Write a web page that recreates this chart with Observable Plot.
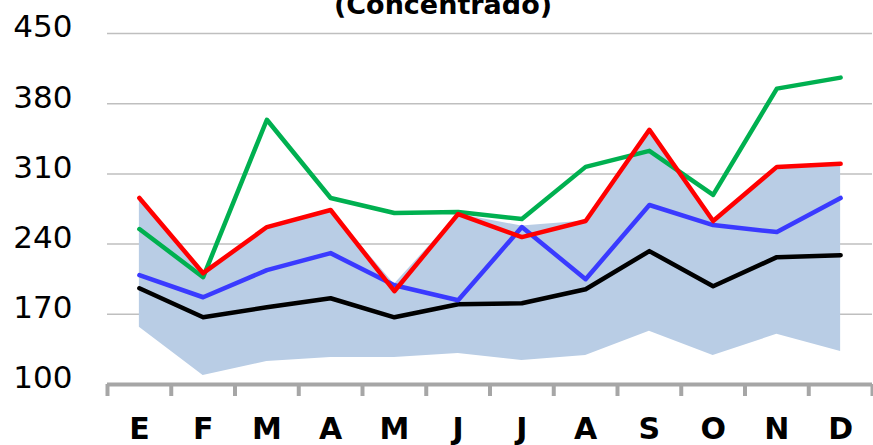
<!DOCTYPE html>
<html>
<head>
<meta charset="utf-8">
<script src="https://cdn.jsdelivr.net/npm/d3@7"></script>
<script src="https://cdn.jsdelivr.net/npm/@observablehq/plot@0.6"></script>
<style>
  html, body { margin: 0; padding: 0; background: #fff; }
  #chart { width: 873px; height: 445px; overflow: hidden; }
</style>
</head>
<body>
<div id="chart"></div>
<script>
const months = ["E","F","M","A","M","J","J","A","S","O","N","D"];
const yTicks = [100, 170, 240, 310, 380, 450];
const title = "(Concentrado)";

const rangeLow  = [157, 109, 123, 127, 127, 131, 124, 129, 153, 129, 150, 133];
const rangeHigh = [285, 211, 257, 274, 200, 270, 258, 263, 354, 263, 317, 320];
const greenVals = [255, 207, 364, 286, 271, 272, 265, 317, 333, 289, 395, 406];
const redVals   = [286, 211, 257, 274, 193, 270, 247, 263, 354, 263, 317, 320];
const blueVals  = [209, 187, 214, 231, 199, 184, 257, 205, 279, 259, 252, 286];
const blackVals = [196, 167, 177, 186, 167, 180, 181, 195, 233, 198, 227, 229];

const idx = months.map((_, i) => i);
const band = idx.map(i => ({i, lo: rangeLow[i], hi: rangeHigh[i]}));
const series = (vals) => vals.map((v, i) => ({i, v}));
const bounds = d3.range(-0.5, 12, 1);

const chart = Plot.plot({
  width: 873,
  height: 445,
  marginLeft: 107,
  marginRight: 1,
  marginTop: 33,
  marginBottom: 61,
  style: {fontFamily: "DejaVu Sans", background: "#fff", overflow: "visible"},
  x: {type: "linear", domain: [-0.5, 11.5], label: null},
  y: {domain: [100, 450], label: null},
  marks: [
    Plot.ruleY(yTicks.slice(1), {stroke: "#BFBFBF", strokeWidth: 1.5}),
    Plot.areaY(band, {x: "i", y1: "lo", y2: "hi", fill: "#B9CDE5", curve: "linear"}),
    Plot.line(series(greenVals), {x: "i", y: "v", stroke: "#00B050", strokeWidth: 4.5}),
    Plot.line(series(blackVals), {x: "i", y: "v", stroke: "#000000", strokeWidth: 4.5}),
    Plot.line(series(blueVals),  {x: "i", y: "v", stroke: "#3A3AFF", strokeWidth: 4.5}),
    Plot.line(series(redVals),   {x: "i", y: "v", stroke: "#FF0000", strokeWidth: 4.5}),
    Plot.ruleY([100], {stroke: "#A6A6A6", strokeWidth: 4}),
    Plot.axisX({ticks: bounds, tickSize: 12, tickFormat: () => "", stroke: "#A6A6A6", strokeWidth: 4, tickPadding: 0, label: null}),
    Plot.axisX({ticks: idx, tickSize: 0, tickPadding: 33, tickFormat: i => months[i],
                fontSize: 30, fontWeight: "bold", fill: "#000", label: null}),
    Plot.axisY({ticks: yTicks, tickSize: 0, tickPadding: 35, fontSize: 31, fill: "#000", dy: -6, label: null}),
    Plot.text([title], {frameAnchor: "top", dx: -47, dy: -20, lineAnchor: "bottom",
                        fontSize: 27, fontWeight: "bold", fill: "#000"})
  ]
});
document.getElementById("chart").appendChild(chart);
</script>
</body>
</html>
